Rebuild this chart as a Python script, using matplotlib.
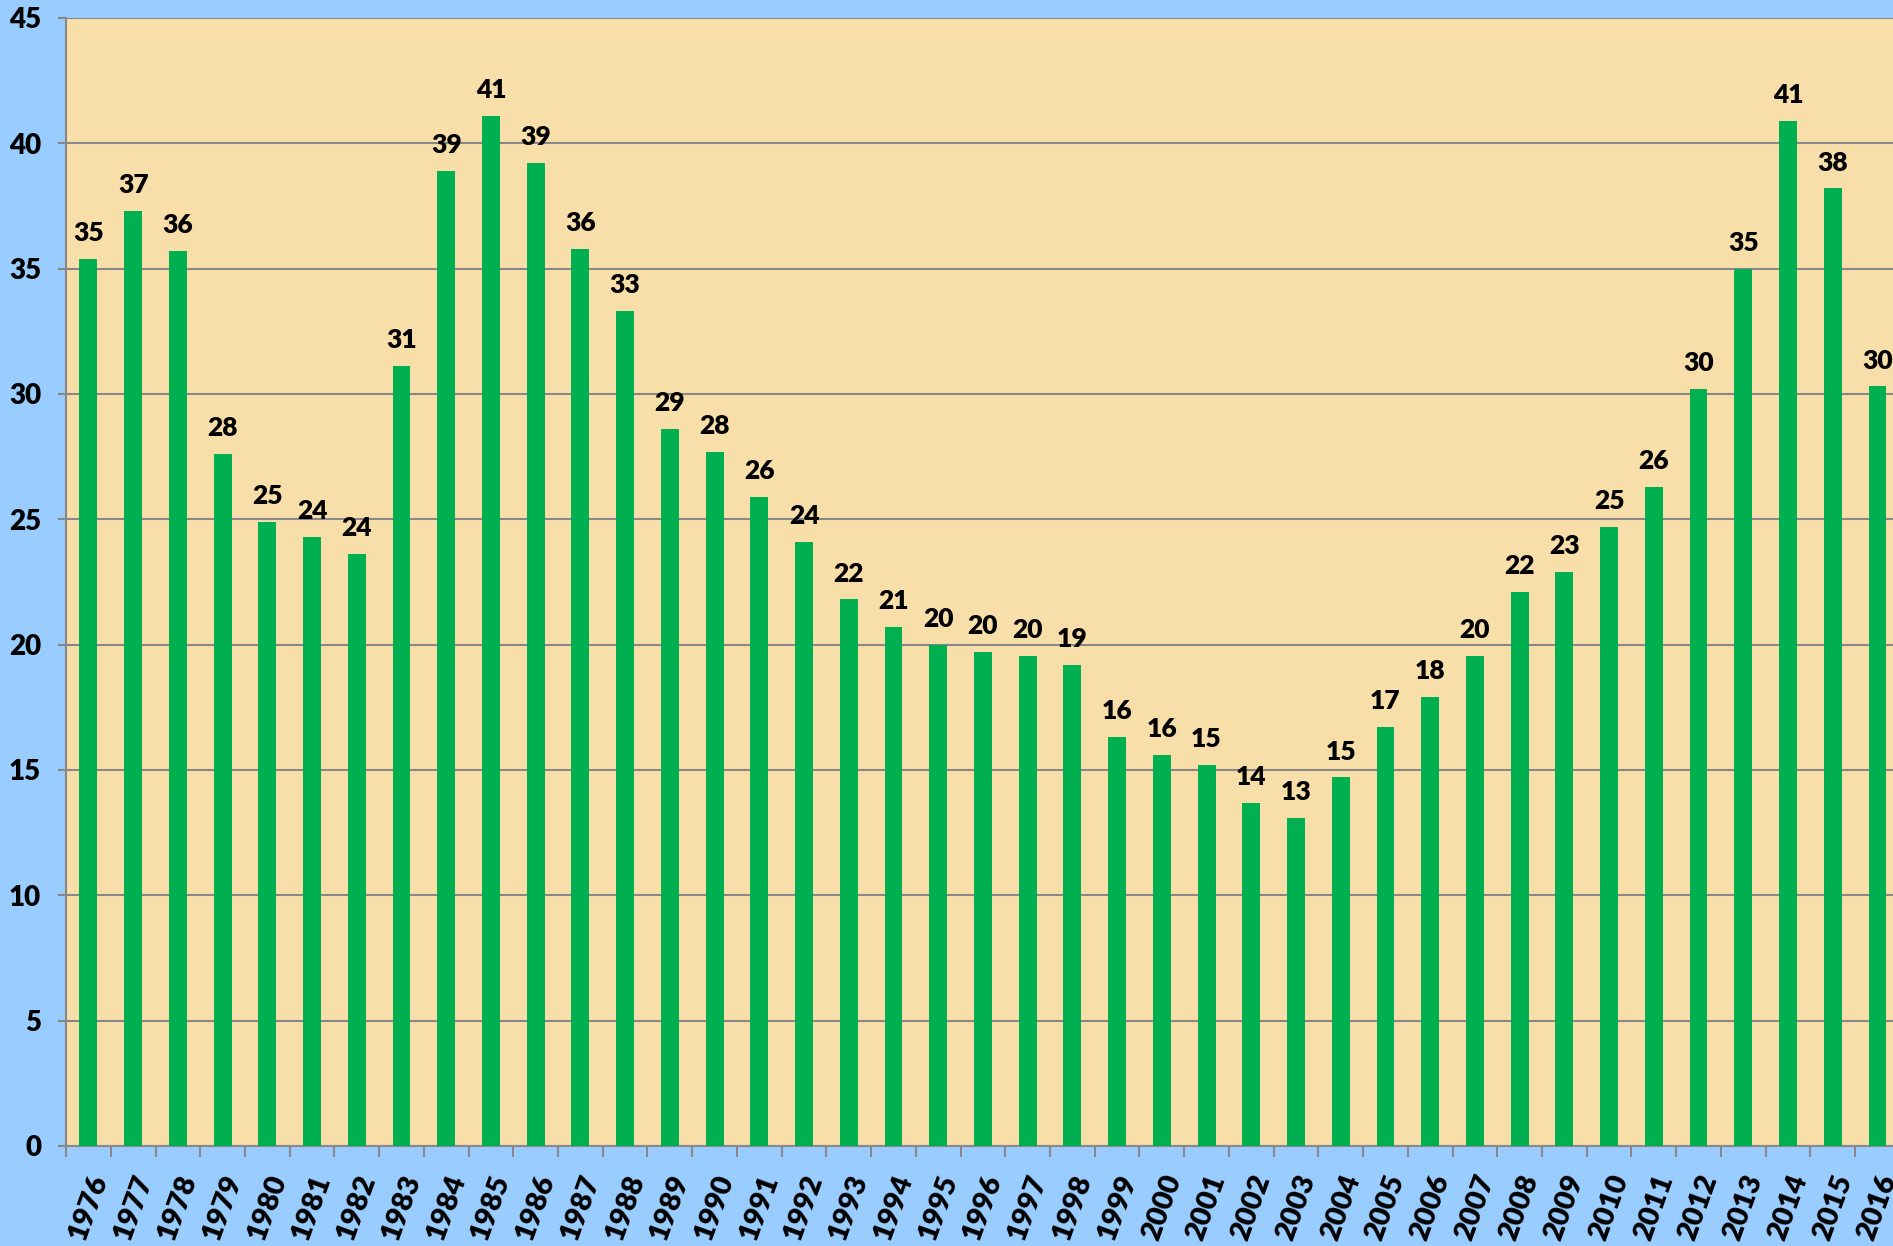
import numpy as np
import matplotlib.pyplot as plt

# yearly values
years = list(range(1976, 2017))
values = [35.4, 37.3, 35.7, 27.6, 24.9, 24.3, 23.6, 31.1, 38.9, 41.1,
          39.2, 35.8, 33.3, 28.6, 27.7, 25.9, 24.1, 21.8, 20.7, 20.0,
          19.7, 19.55, 19.2, 16.3, 15.6, 15.2, 13.7, 13.1, 14.7, 16.7,
          17.9, 19.55, 22.1, 22.9, 24.7, 26.3, 30.2, 35.0, 40.9, 38.2,
          30.3]
y_ticks = [0, 5, 10, 15, 20, 25, 30, 35, 40, 45]

plt.rcParams['font.family'] = ['Lato', 'DejaVu Sans']

fig = plt.figure(figsize=(18.93, 12.46), dpi=100, facecolor='#99CCFF')
ax = fig.add_axes([0.0349, 0.0803, 0.9687, 0.9053])
ax.set_facecolor('#F8DEA9')

x = np.arange(len(years))
bars = ax.bar(x, values, width=0.4, color='#00B050', zorder=3)

for xi, v in zip(x, values):
    ax.annotate(f'{v:.0f}', (xi, v), xytext=(0, 10), textcoords='offset points',
                ha='center', va='bottom', fontsize=19, fontweight='heavy', zorder=4)

ax.set_xlim(-0.5, len(years) - 0.5)
ax.set_ylim(0, 45)
ax.set_yticks(y_ticks)
ax.set_yticklabels([str(t) for t in y_ticks], fontsize=20, fontweight='heavy')

# ticks at category boundaries, labels at centres
ax.set_xticks(np.arange(-0.5, len(years), 1))
ax.set_xticklabels([])
ax.set_xticks(x, minor=True)
ax.set_xticklabels([str(y) for y in years], minor=True, rotation=70,
                   fontsize=21, fontweight='heavy', ha='center')
ax.tick_params(axis='x', which='minor', length=0, pad=18)
ax.tick_params(axis='x', which='major', length=8, width=1.5, color='#888888')
ax.tick_params(axis='y', length=6, width=1.5, color='#888888', pad=12)

ax.yaxis.grid(True, color='#888888', linewidth=1.5, zorder=0)
ax.set_axisbelow(True)
ax.spines['right'].set_visible(False)
ax.spines['top'].set_visible(False)
ax.spines['left'].set_color('#888888')
ax.spines['left'].set_linewidth(1.5)
ax.spines['bottom'].set_color('#888888')
ax.spines['bottom'].set_linewidth(1.5)

fig.savefig('out.png', dpi=100, facecolor=fig.get_facecolor())
